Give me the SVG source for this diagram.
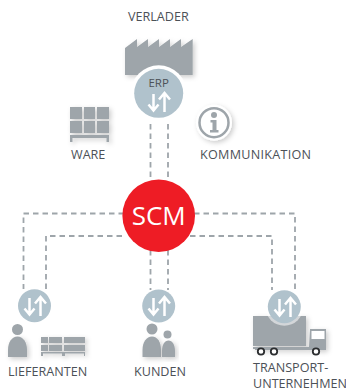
<svg xmlns="http://www.w3.org/2000/svg" width="346" height="392" viewBox="0 0 346 392">
<style>
text{font-family:"Open Sans","Noto Sans",sans-serif;font-size:12.6px;fill:#4c5157}
.c{fill:none;stroke:#9ea5aa;stroke-width:1.8;stroke-dasharray:5.5 4}
.i{fill:#9ea5aa}
.b{fill:#b0c2cc}
.a{fill:none;stroke:#fff;stroke-width:2.5}
</style>
<defs>
<filter id="s" x="-30%" y="-30%" width="160%" height="160%"><feDropShadow dx="2" dy="2" stdDeviation="2.5" flood-color="#000" flood-opacity=".2"/></filter>
<g id="ar"><path class="a" d="M-5.500-8V8M-10.500 2.500l5 6 5-6M5.500 10V-8M0-2.500l5.500-6.500 5.500 6.500"/></g>
</defs>
<g id="connectors">
<path class="c" d="M150.500 124V180M168 124V180"/>
<path class="c" d="M124 213.500H23.500V289M122 236H46V289"/>
<path class="c" d="M194 213.500H295V290M190 236H272V290"/>
<path class="c" d="M150.500 250V290M168 250V290"/>
</g>
<g id="verlader">
<text x="128" y="21">VERLADER</text>
<path class="i" filter="url(#s)" d="M125 48 137 39V47L148 39V47L159 39V47L170 39V47L181 39V47L192.700 39V75H125Z"/>
<circle cx="158.700" cy="93.300" r="28" fill="#fff"/>
<circle class="b" cx="158.700" cy="93.300" r="24.500"/>
<text x="158.700" y="87" text-anchor="middle" style="font-size:11.500px">ERP</text>
<use href="#ar" x="159" y="102"/>
</g>
<g id="ware">
<path class="i" filter="url(#s)" d="M70 107H82V119H70ZM84 107H95V119H84ZM97 107H109V119H97ZM70 121H82V133H70ZM84 121H95V133H84ZM97 121H109V133H97ZM70 135H109V142H106.500V138H72.500V142H70Z"/>
<text x="71" y="159">WARE</text>
</g>
<g id="kommunikation">
<circle cx="214" cy="122.700" r="18" fill="#fff" filter="url(#s)"/>
<circle cx="214" cy="122.700" r="14.500" fill="none" stroke="#9ea5aa" stroke-width="2.500"/>
<circle class="i" cx="214" cy="115" r="3"/>
<path class="i" d="M210.500 120H216.500V130H218.500V132.500H210V130H212.500V122.500H210.500Z"/>
<text x="200" y="159" textLength="111">KOMMUNIKATION</text>
</g>
<g id="scm">
<circle cx="158.700" cy="215.700" r="36.300" fill="#ee1c25"/>
<text x="158.700" y="225" text-anchor="middle" style="font-size:26px;fill:#fff">SCM</text>
</g>
<g id="lieferanten">
<circle class="b" cx="34.500" cy="305.700" r="16.500"/>
<use href="#ar" x="35" y="306"/>
<circle class="i" cx="17.500" cy="329.500" r="5.500"/>
<path class="i" filter="url(#s)" d="M8 357V350C8 342 12 336.500 17.500 336.500S27 342 27 350V357Z"/>
<path class="i" filter="url(#s)" d="M41 337H48V343H41ZM49 337H62V343H49ZM64 337H85V343H64ZM41 345H48V351H41ZM49 345H62V351H49ZM64 345H85V351H64ZM41 352H85V356H84V353.500H65V356H62V353.500H43V356H41Z"/>
<text x="8" y="376">LIEFERANTEN</text>
</g>
<g id="kunden">
<circle class="b" cx="158.700" cy="306" r="16.500"/>
<use href="#ar" x="159" y="306"/>
<circle class="i" cx="152" cy="329" r="5.500"/>
<path class="i" filter="url(#s)" d="M142.500 357V350C142.500 342 146.500 336.500 152 336.500S161 342 161 350V357Z"/>
<circle class="i" cx="167.500" cy="334.500" r="4"/>
<path class="i" filter="url(#s)" d="M162 357V351C162 345 164.500 340.500 168.500 340.500S175 345 175 351V357Z"/>
<text x="134" y="376">KUNDEN</text>
</g>
<g id="transport">
<path class="i" filter="url(#s)" d="M253 316H306V346H253ZM310 329H326V350H255V347H309ZM253 347H256V349H253Z"/>
<rect x="311.500" y="331" width="13" height="8" fill="#fff"/>
<g fill="#fff" stroke="#2b2d2f" stroke-width="1.800"><circle cx="261" cy="351.500" r="3.200"/><circle cx="274" cy="351.500" r="3.200"/><circle cx="316" cy="351.500" r="3.200"/></g>
<circle cx="284.300" cy="306.700" r="19" fill="#fff" opacity=".55"/>
<circle class="b" cx="284.300" cy="306.700" r="16.500"/>
<use href="#ar" x="285" y="307"/>
<text x="253" y="372">TRANSPORT-</text>
<text x="253" y="388.300">UNTERNEHMEN</text>
</g>
</svg>
